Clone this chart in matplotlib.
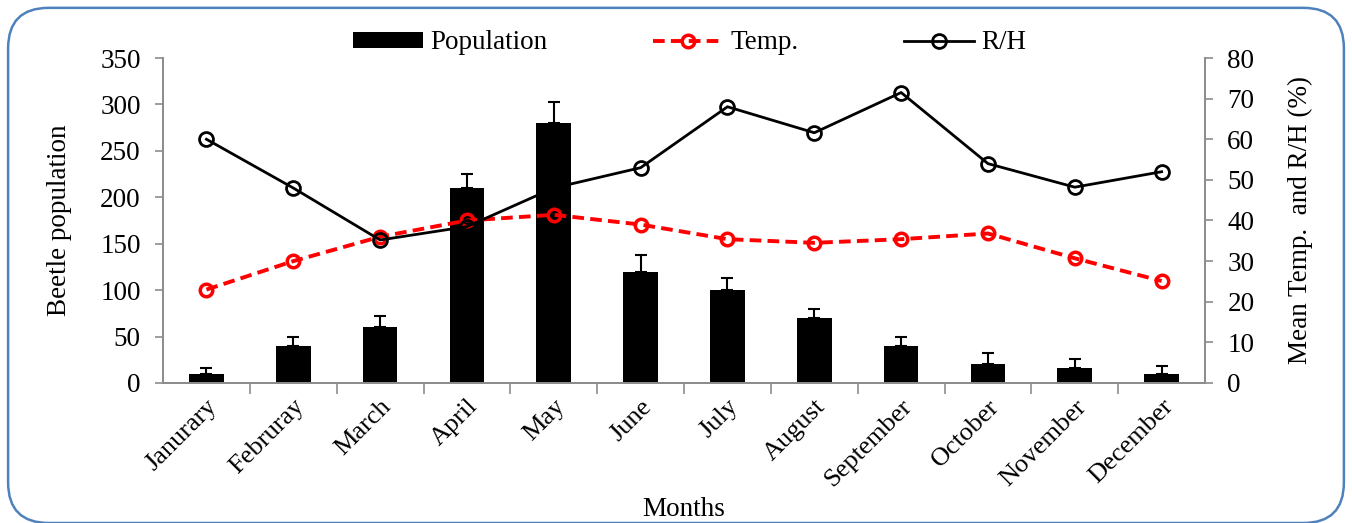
import numpy as np
import matplotlib.pyplot as plt
from matplotlib.patches import FancyBboxPatch
from matplotlib.ticker import FixedLocator

# Monthly beetle counts with temperature and relative humidity
months = ["Janurary", "Februray", "March", "April", "May", "June",
          "July", "August", "September", "October", "November", "December"]
population = [10, 40, 60, 210, 280, 120, 100, 70, 40, 20, 16, 10]
population_err = [6, 9, 12.5, 15, 23, 18, 13, 10, 9.5, 12, 10, 8]
temp = [23, 30, 36, 40, 41.4, 39, 35.4, 34.5, 35.4, 36.8, 30.7, 25.1]
rh = [60, 48, 35.2, 38.5, 48, 53, 68, 61.6, 71.5, 54, 48.2, 52]

plt.rcParams['font.family'] = ['Liberation Serif', 'DejaVu Serif']
plt.rcParams['font.size'] = 19.5

AXIS_GREY = "#8c8c8c"

fig = plt.figure(figsize=(13.52, 5.23), dpi=100)
ax = fig.add_axes([0.1206, 0.2677, 0.7707, 0.6214])
ax2 = ax.twinx()

x = np.arange(len(months))

bars = ax.bar(x, population, width=0.4, color="black", label="Population", zorder=2)
ax.errorbar(x, population, yerr=[np.zeros(len(population)), population_err],
            fmt="none", ecolor="black", elinewidth=1.5, capsize=4.5, capthick=1.5, zorder=3)

temp_line, = ax2.plot(x, temp, color="red", linestyle=(0, (3, 1.6)), linewidth=2.8,
                      marker="o", markersize=9, markerfacecolor="none",
                      markeredgecolor="red", markeredgewidth=2.5, label="Temp.", zorder=4)
rh_line, = ax2.plot(x, rh, color="black", linewidth=2, marker="o", markersize=10,
                    markerfacecolor="none", markeredgecolor="black",
                    markeredgewidth=2, label="R/H", zorder=5)

ax.set_xlim(-0.5, len(months) - 0.5)
ax.set_ylim(0, 350)
ax.set_yticks(range(0, 351, 50))
ax2.set_ylim(0, 80)
ax2.set_yticks(range(0, 81, 10))

# labels sit under each bar, tick marks go between the months
ax.set_xticks(x)
ax.set_xticklabels(months, rotation=45, ha="right", rotation_mode="anchor", fontsize=19)
ax.xaxis.set_minor_locator(FixedLocator(np.arange(0.5, len(months) - 0.5, 1)))
ax.tick_params(axis="x", which="major", length=0, pad=9)
ax.tick_params(axis="x", which="minor", length=8, color=AXIS_GREY, width=1.2)
ax.tick_params(axis="y", length=6, color=AXIS_GREY, width=1.2, pad=10)
ax2.tick_params(axis="y", length=6, color=AXIS_GREY, width=1.2, pad=10)

for a in (ax, ax2):
    a.spines["top"].set_visible(False)
    for side in ("left", "right", "bottom"):
        a.spines[side].set_color(AXIS_GREY)
        a.spines[side].set_linewidth(1.3)

ax.set_ylabel("Beetle population", labelpad=20)
ax2.set_ylabel("Mean Temp.  and R/H (%)", labelpad=24)
ax.set_xlabel("Months")
ax.xaxis.set_label_coords(0.5, -0.352)

fig.legend([bars, temp_line, rh_line], ["Population", "Temp.", "R/H"],
           loc="center", bbox_to_anchor=(0.51, 0.918), ncol=3, frameon=False,
           handlelength=2.6, handleheight=0.55, columnspacing=3.9, handletextpad=0.25)

# rounded frame around the whole chart
frame = FancyBboxPatch((0.006, 0.0), 0.988, 0.985, boxstyle="round,pad=0,rounding_size=0.03",
                       transform=fig.transFigure, facecolor="none", edgecolor="#4f81bd",
                       linewidth=1.8, mutation_aspect=1352 / 523, clip_on=False)
fig.patches.append(frame)

fig.savefig("out.png", dpi=100)
